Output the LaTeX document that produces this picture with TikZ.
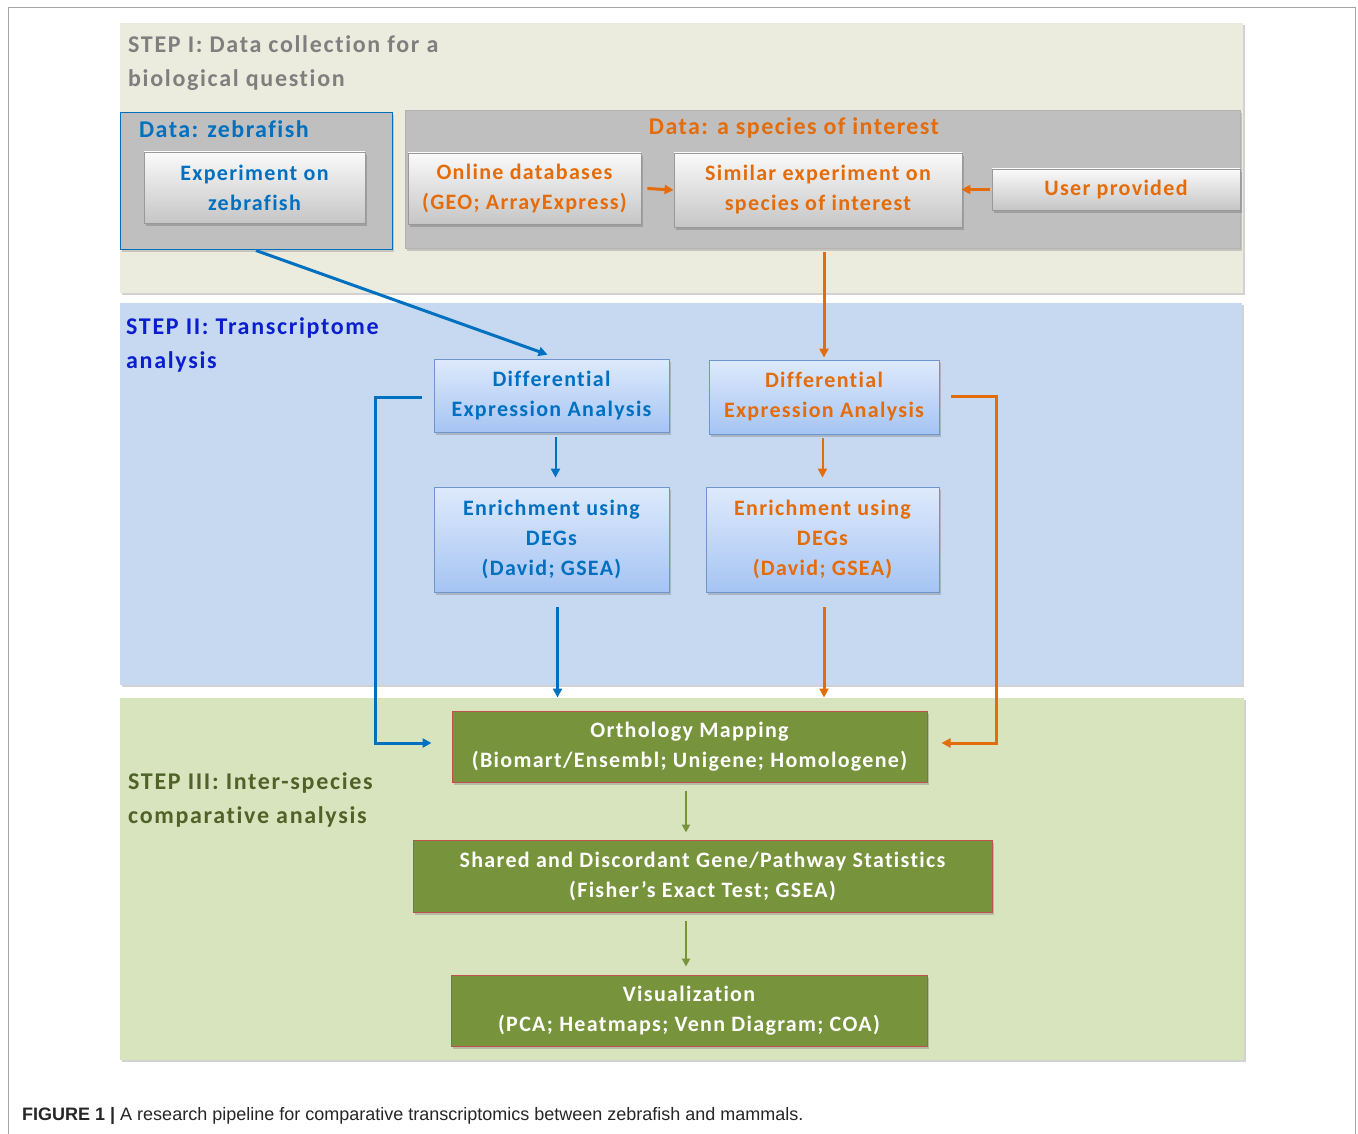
\documentclass[tikz,border=0pt]{standalone}
\usepackage{fontspec}
\setmainfont{Carlito}[Ligatures=CommonOff]
\newfontfamily\capfont{Liberation Sans}
\usetikzlibrary{arrows.meta,shadows}
\definecolor{beigeP}{RGB}{235,235,222}
\definecolor{blueP}{RGB}{198,217,241}
\definecolor{greenP}{RGB}{215,228,189}
\definecolor{grayC}{RGB}{191,191,191}
\definecolor{zblue}{RGB}{0,112,192}
\definecolor{sorange}{RGB}{228,108,10}
\definecolor{stepblue}{RGB}{10,30,205}
\definecolor{stepgreen}{RGB}{79,98,40}
\definecolor{stepgray}{RGB}{127,127,127}
\definecolor{gbox}{RGB}{119,147,60}
\definecolor{redB}{RGB}{192,80,77}
\definecolor{boxblueB}{RGB}{110,150,205}
\begin{document}
\begin{tikzpicture}[x=1pt,y=-1pt,
  font=\bfseries\fontsize{22}{30}\selectfont\addfontfeatures{LetterSpace=6},
  panel/.style={fill=#1, drop shadow={opacity=0.35,shadow xshift=2pt,shadow yshift=-2pt}},
  container/.style={fill=grayC, draw=#1, line width=1pt, inner sep=0pt,
     drop shadow={opacity=0.35,shadow xshift=2pt,shadow yshift=-2pt}},
  graybox/.style={draw=gray!80, line width=0.8pt, top color=white!96!gray, bottom color=gray!45,
     text=#1, align=center, inner sep=0pt,
     drop shadow={opacity=0.5,shadow xshift=2pt,shadow yshift=-3pt}},
  bluebox/.style={draw=boxblueB, line width=0.8pt, top color={rgb,255:red,222;green,234;blue,252},
     bottom color={rgb,255:red,165;green,196;blue,243},
     text=#1, align=center, inner sep=0pt,
     drop shadow={opacity=0.4,shadow xshift=2pt,shadow yshift=-3pt}},
  greenbox/.style={draw=redB, line width=1pt, fill=gbox, text=white, align=center, inner sep=0pt,
     drop shadow={opacity=0.4,shadow xshift=2pt,shadow yshift=-3pt}},
  barrow/.style={draw=zblue, line width=#1, -{Triangle[length=9pt,width=9pt]}},
  barrow/.default=3pt,
  oarrow/.style={draw=sorange, line width=#1, -{Triangle[length=9pt,width=9pt]}},
  oarrow/.default=3pt,
  garrow/.style={draw=gbox, line width=2.5pt, -{Triangle[length=8pt,width=8pt]}},
  steplabel/.style={anchor=west, align=left, inner sep=0pt,
     font=\bfseries\fontsize{24}{34}\selectfont\addfontfeatures{LetterSpace=7}, text=#1},
  titlefont/.style={inner sep=0pt, font=\bfseries\fontsize{24}{30}\selectfont\addfontfeatures{LetterSpace=6}}
]
\useasboundingbox (0,0) rectangle (1358,1134);
\fill[white] (0,0) rectangle (1358,1134);
\draw[gray!70, line width=1pt] (8,1134) -- (8,8) -- (1355,8) -- (1355,1134);

% panels
\path[panel=beigeP] (120,23) rectangle (1243,293);
\path[panel=blueP] (120,303) rectangle (1242,685);
\path[panel=greenP] (120,698) rectangle (1244,1060);

% step labels
\node[steplabel=stepgray] (s1) at (128,63) {STEP I: Data collection for a\\biological question};
\node[steplabel=stepblue] (s2) at (126,345) {STEP II: Transcriptome\\analysis};
\node[steplabel=stepgreen] (s3) at (128,800) {STEP III: Inter-species\\comparative analysis};

% step I containers
\node[container=zblue, minimum width=272pt, minimum height=137pt] (zf) at (256,181.5) {};
\node[container=gray!60, minimum width=835pt, minimum height=138pt] (spc) at (822.5,180) {};
\node[titlefont, anchor=west, text=zblue] (zft) at (139,129) {Data: zebrafish};
\node[titlefont, text=sorange] (spct) at (794,128) {Data: a species of interest};

\node[graybox=zblue, minimum width=221pt, minimum height=71pt] (exp) at (254.5,187.5) {Experiment on\\zebrafish};
\node[graybox=sorange, minimum width=233pt, minimum height=71pt] (online) at (524.5,188.5) {Online databases\\(GEO; ArrayExpress)};
\node[graybox=sorange, minimum width=288pt, minimum height=74pt] (sim) at (818,190) {Similar experiment on\\species of interest};
\node[graybox=sorange, minimum width=248pt, minimum height=41pt] (user) at (1116,189.5) {User provided};

\draw[oarrow=3pt] ([xshift=6pt]online.east) -- (sim.west);
\draw[oarrow=3pt] ([xshift=-2pt]user.west) -- ([xshift=-1pt]sim.east |- user.west);

% step II
\node[bluebox=zblue, minimum width=235pt, minimum height=73pt] (deab) at (551.5,395.5) {Differential\\Expression  Analysis};
\node[bluebox=sorange, minimum width=230pt, minimum height=74pt] (deao) at (824,397) {Differential\\Expression  Analysis};
\node[bluebox=zblue, minimum width=235pt, minimum height=105pt] (enrb) at (551.5,539.5) {Enrichment  using\\DEGs\\(David; GSEA)};
\node[bluebox=sorange, minimum width=233pt, minimum height=105pt] (enro) at (822.5,539.5) {Enrichment  using\\DEGs\\(David; GSEA)};

\draw[barrow=3pt] (zf.south) -- ([xshift=-4pt,yshift=4pt]deab.north);
\draw[oarrow=3pt, shorten <=3pt, shorten >=2pt] (deao.north |- spc.south) -- (deao.north);
\draw[barrow=2pt, shorten <=5pt, shorten >=9pt] ([xshift=4pt]deab.south) -- ([xshift=4pt]deab.south |- enrb.north);
\draw[oarrow=2pt, shorten <=4pt, shorten >=9pt] (deao.south -| enro.north) -- (enro.north);

% step III
\node[greenbox, minimum width=475pt, minimum height=71pt] (orth) at (689.5,746.5) {Orthology  Mapping\\(Biomart/Ensembl;  Unigene; Homologene)};
\node[greenbox, minimum width=579pt, minimum height=72pt] (shared) at (702.5,876) {Shared  and  Discordant  Gene/Pathway  Statistics\\(Fisher's Exact Test; GSEA)};
\node[greenbox, minimum width=476pt, minimum height=71pt] (vis) at (689,1010.5) {Visualization\\(PCA; Heatmaps;  Venn  Diagram;  COA)};

\draw[barrow=3pt, shorten <=15pt, shorten >=13pt] ([xshift=6pt]enrb.south) -- ([xshift=6pt]enrb.south |- orth.north);
\draw[oarrow=3pt, shorten <=15pt, shorten >=13pt] ([xshift=1.5pt]enro.south) -- ([xshift=1.5pt]enro.south |- orth.north);

\draw[barrow=3pt] ([xshift=-12pt,yshift=-1.5pt]deab.west) -- ++(-46,0) |- ([xshift=-20pt,yshift=3.5pt]orth.west);
\draw[oarrow=3pt] ([xshift=12pt,yshift=1pt]deao.east) -- ++(45,0) |- ([xshift=14pt,yshift=3.5pt]orth.east);

\draw[garrow, shorten <=8pt, shorten >=7pt] ([xshift=-3.5pt]orth.south) -- ([xshift=-3.5pt]orth.south |- shared.north);
\draw[garrow, shorten <=8pt, shorten >=8pt] ([xshift=-3.5pt]orth.south |- shared.south) -- ([xshift=-3.5pt]orth.south |- vis.north);

% caption
\node[anchor=west, font=\capfont\fontsize{18}{20}\selectfont, text=black!85, inner sep=0pt] (cap) at (22,1116)
  {\textbf{FIGURE 1 |} A research pipeline for comparative transcriptomics between zebrafish and mammals.};
\end{tikzpicture}
\end{document}
